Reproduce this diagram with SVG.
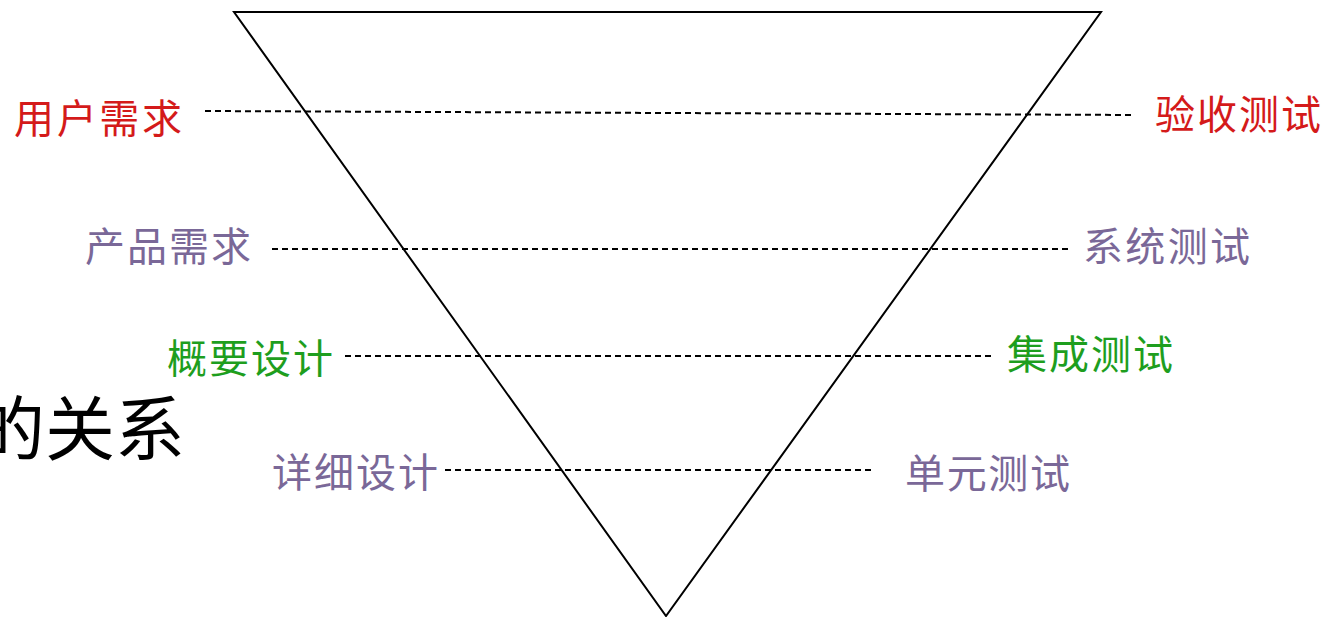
<svg xmlns="http://www.w3.org/2000/svg" width="1325" height="617" viewBox="0 0 1325 617">
<style>
.lbl{font-family:"Noto Sans CJK SC","Noto Sans CJK JP",sans-serif;font-size:40px}
.red{fill:#d41a1a}
.pur{fill:#7a6898}
.grn{fill:#1e9e1e}
.dash{stroke:#000;stroke-width:2;stroke-dasharray:6 4;fill:none}
</style>
<rect width="1325" height="617" fill="#fff"/>
<g id="triangle">
<polygon points="234,12 1101,12 666,616" fill="none" stroke="#000" stroke-width="2"/>
</g>
<g id="connectors">
<line class="dash" x1="205" y1="111" x2="1135" y2="115"/>
<line class="dash" x1="272" y1="249" x2="1072" y2="249"/>
<line class="dash" x1="345" y1="356" x2="995" y2="356"/>
<line class="dash" x1="445" y1="470" x2="872" y2="470"/>
</g>
<g id="title">
<text x="-25" y="455" font-family="'Noto Sans CJK SC',sans-serif" font-size="70" fill="#000">的关系</text>
</g>
<g id="n-user-req"><text class="lbl red" x="14" y="133" textLength="168">用户需求</text></g>
<g id="n-accept-test"><text class="lbl red" x="1155" y="129" textLength="166">验收测试</text></g>
<g id="n-prod-req"><text class="lbl pur" x="85" y="261" textLength="166">产品需求</text></g>
<g id="n-sys-test"><text class="lbl pur" x="1083" y="261" textLength="167">系统测试</text></g>
<g id="n-hl-design"><text class="lbl grn" x="167" y="373" textLength="166">概要设计</text></g>
<g id="n-int-test"><text class="lbl grn" x="1007" y="369" textLength="166">集成测试</text></g>
<g id="n-detail-design"><text class="lbl pur" x="272" y="487" textLength="166">详细设计</text></g>
<g id="n-unit-test"><text class="lbl pur" x="905" y="488" textLength="165">单元测试</text></g>
</svg>
